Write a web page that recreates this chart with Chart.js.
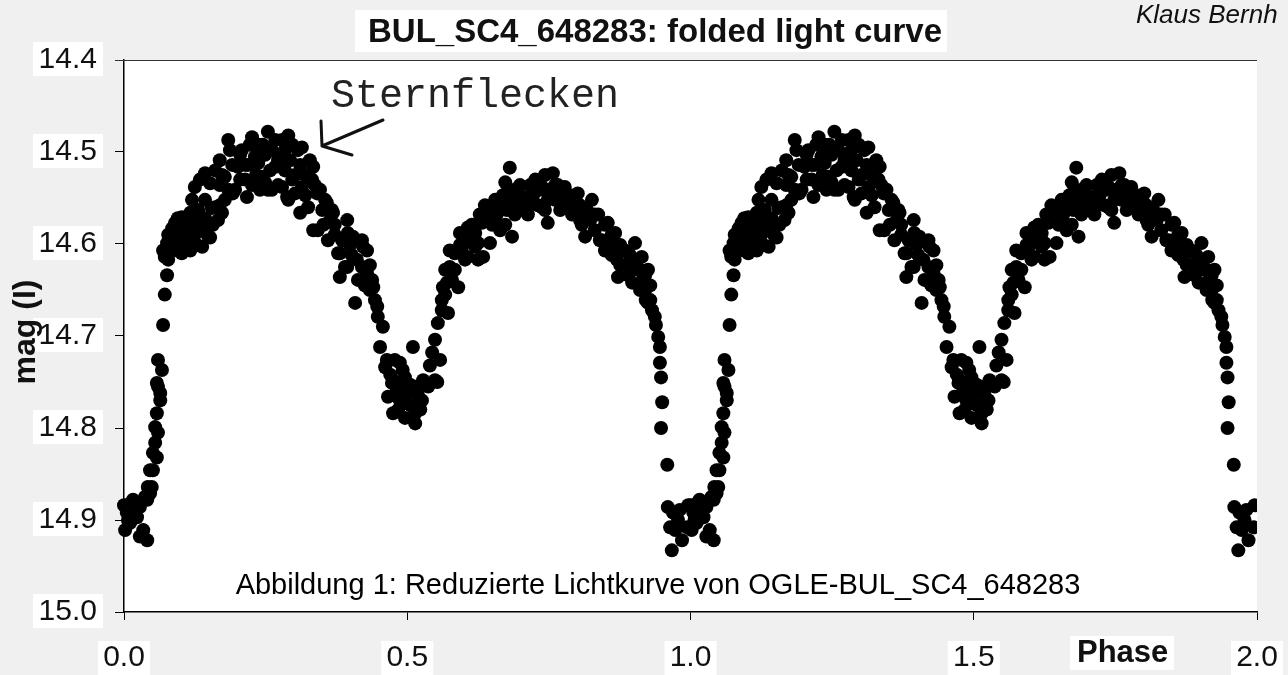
<!DOCTYPE html>
<html><head><meta charset="utf-8">
<script src="https://cdn.jsdelivr.net/npm/chart.js@4/dist/chart.umd.min.js"></script>
<style>html,body{margin:0;padding:0;background:#f0f0f0;overflow:hidden}#wrap{position:relative;width:1288px;height:675px}</style>
</head><body><div id="wrap"><canvas id="c"></canvas></div>
<script>
// Folded light curve: one cycle of observations (phase 0..1), shown twice (0..2)
const phase = [
0.000,0.002,0.005,0.007,0.011,0.011,0.016,0.019,0.023,0.028,
0.028,0.034,0.037,0.041,0.041,0.042,0.046,0.046,0.049,0.051,
0.051,0.055,0.058,0.060,0.055,0.058,0.064,0.060,0.067,0.060,
0.064,0.058,0.069,0.072,0.076,0.072,0.069,0.072,0.076,0.081,
0.078,0.085,0.090,0.090,0.095,0.099,0.102,0.102,0.108,0.111,
0.117,0.120,0.125,0.129,0.131,0.134,0.138,0.143,0.143,0.148,
0.152,0.155,0.161,0.166,0.173,0.178,0.184,0.125,0.134,0.143,
0.152,0.161,0.169,0.173,0.178,0.184,0.187,0.192,0.196,0.201,
0.205,0.208,0.214,0.217,0.219,0.222,0.226,0.231,0.233,0.237,
0.240,0.244,0.245,0.249,0.254,0.254,0.258,0.261,0.267,0.267,
0.272,0.275,0.279,0.284,0.288,0.290,0.290,0.293,0.297,0.302,
0.302,0.307,0.311,0.311,0.314,0.314,0.320,0.325,0.328,0.334,
0.334,0.337,0.341,0.342,0.346,0.350,0.355,0.358,0.360,0.364,
0.367,0.369,0.372,0.378,0.381,0.381,0.390,0.394,0.394,0.395,
0.399,0.404,0.408,0.411,0.420,0.420,0.422,0.425,0.429,0.429,
0.434,0.438,0.440,0.443,0.447,0.448,0.452,0.457,0.461,0.464,
0.466,0.470,0.473,0.475,0.478,0.482,0.487,0.487,0.492,0.496,
0.496,0.501,0.505,0.510,0.514,0.514,0.519,0.526,0.531,0.537,
0.540,0.544,0.549,0.549,0.554,0.558,0.528,0.553,0.517,0.492,
0.475,0.561,0.561,0.563,0.567,0.570,0.572,0.575,0.575,0.579,
0.584,0.590,0.593,0.593,0.597,0.602,0.607,0.607,0.611,0.614,
0.620,0.620,0.625,0.625,0.628,0.632,0.634,0.634,0.637,0.643,
0.646,0.646,0.650,0.655,0.658,0.664,0.664,0.669,0.673,0.676,
0.678,0.681,0.685,0.685,0.690,0.696,0.699,0.703,0.708,0.713,
0.717,0.722,0.726,0.731,0.734,0.738,0.738,0.743,0.748,0.752,
0.757,0.761,0.766,0.770,0.773,0.778,0.782,0.787,0.791,0.796,
0.801,0.805,0.808,0.814,0.817,0.823,0.826,0.831,0.837,0.840,
0.844,0.849,0.854,0.858,0.861,0.867,0.870,0.872,0.876,0.879,
0.884,0.890,0.893,0.897,0.902,0.906,0.911,0.914,0.916,0.920,
0.921,0.925,0.925,0.929,0.932,0.937,0.939,0.943,0.946,0.946,
0.948,0.950,0.948,0.959,0.960,0.964,0.969,0.967,0.973,0.978,0.981,0.985,0.994,0.996,
0.081,0.094,0.108,0.117,0.125,0.134,0.147,0.157,0.169,0.095,
0.078,0.120,0.191,0.214,0.226,0.237,0.249,0.261,0.272,0.284,
0.297,0.279,0.205,0.169,0.320,0.332,0.352,0.372,0.385,0.402,
0.413,0.434,0.478,0.505,0.523,0.484,0.584,0.602,0.614,0.567,
0.655,0.673,0.690,0.717,0.729,0.748,0.761,0.778,0.796,0.814,
0.831,0.743,0.770,0.805,0.849,0.861,0.884,0.898,0.911,0.929,
0.920,0.876
];
const mag = [
14.884,14.911,14.892,14.900,14.903,14.882,14.878,14.891,14.897,14.886,
14.918,14.911,14.875,14.922,14.878,14.864,14.871,14.846,14.864,14.846,
14.827,14.816,14.832,14.805,14.799,14.784,14.770,14.755,14.737,14.726,
14.762,14.751,14.688,14.655,14.634,14.612,14.607,14.614,14.599,14.607,
14.590,14.583,14.596,14.577,14.587,14.601,14.571,14.610,14.579,14.593,
14.566,14.588,14.576,14.601,14.563,14.585,14.603,14.552,14.572,14.582,
14.593,14.561,14.560,14.574,14.566,14.552,14.541,14.538,14.530,14.523,
14.534,14.520,14.509,14.525,14.527,14.487,14.498,14.545,14.541,14.516,
14.503,14.498,14.530,14.549,14.514,14.492,14.484,14.505,14.525,14.512,
14.541,14.527,14.492,14.503,14.478,14.541,14.520,14.498,14.516,14.487,
14.536,14.503,14.538,14.520,14.549,14.482,14.552,14.509,14.492,14.545,
14.525,14.498,14.566,14.514,14.495,14.538,14.525,14.560,14.509,14.516,
14.585,14.536,14.545,14.585,14.541,14.563,14.552,14.555,14.596,14.574,
14.563,14.566,14.590,14.610,14.610,14.636,14.625,14.574,14.625,14.588,
14.601,14.592,14.664,14.617,14.596,14.625,14.603,14.645,14.607,14.632,
14.623,14.639,14.647,14.661,14.668,14.679,14.712,14.690,14.734,14.726,
14.766,14.742,14.751,14.784,14.726,14.759,14.729,14.770,14.737,14.745,
14.789,14.762,14.775,14.712,14.784,14.795,14.764,14.770,14.753,14.755,
14.732,14.718,14.748,14.704,14.686,14.726,14.748,14.750,14.755,14.755,
14.748,14.672,14.661,14.647,14.628,14.642,14.675,14.607,14.625,14.639,
14.610,14.647,14.588,14.601,14.603,14.617,14.582,14.614,14.582,14.596,
14.588,14.603,14.599,14.617,14.568,14.577,14.574,14.614,14.558,14.563,
14.560,14.599,14.579,14.552,14.568,14.555,14.585,14.547,14.533,14.563,
14.541,14.517,14.592,14.552,14.541,14.563,14.536,14.552,14.549,14.568,
14.536,14.547,14.530,14.558,14.541,14.538,14.560,14.525,14.577,14.541,
14.523,14.552,14.536,14.563,14.547,14.538,14.558,14.547,14.568,14.566,
14.545,14.558,14.579,14.592,14.563,14.574,14.552,14.585,14.568,14.596,
14.596,14.579,14.577,14.601,14.590,14.588,14.617,14.636,14.601,14.607,
14.623,14.634,14.612,14.642,14.599,14.628,14.650,14.614,14.639,14.650,
14.661,14.628,14.664,14.645,14.672,14.679,14.688,14.701,14.712,14.729,
14.745,14.772,14.800,14.840,14.886,14.908,14.892,14.933,14.911,14.900,14.889,14.922,14.908,14.884,
14.590,14.607,14.596,14.607,14.590,14.572,14.590,14.579,14.558,14.572,
14.617,14.552,14.514,14.514,14.536,14.492,14.533,14.541,14.509,14.498,
14.530,14.487,14.530,14.536,14.547,14.530,14.579,14.579,14.596,14.612,
14.639,14.650,14.764,14.753,14.780,14.780,14.628,14.596,14.579,14.655,
14.574,14.579,14.568,14.558,14.541,14.552,14.536,14.552,14.552,14.568,
14.568,14.563,14.541,14.574,14.607,14.612,14.607,14.623,14.628,14.661,
14.634,14.623
];
const cycles = [0, 1];
const xTicks = [0.0, 0.5, 1.0, 1.5, 2.0];
const yTicks = [14.4, 14.5, 14.6, 14.7, 14.8, 14.9, 15.0];
const titleText = 'BUL_SC4_648283: folded light curve';
const xTitle = 'Phase';
const yTitle = 'mag (I)';
const annotationText = 'Sternflecken';
const captionText = 'Abbildung 1: Reduzierte Lichtkurve von OGLE-BUL_SC4_648283';
const authorText = 'Klaus Bernh';

const points = [];
cycles.forEach(c => phase.forEach((p, i) => points.push({x: p + c, y: mag[i]})));

const SANS = '"Liberation Sans", Arial, sans-serif';

const deco = {
  id: 'deco',
  beforeDraw(chart) {
    const {ctx, chartArea: a, scales} = chart;
    ctx.save();
    ctx.fillStyle = '#f0f0f0';
    ctx.fillRect(0, 0, chart.width, chart.height);
    ctx.fillStyle = '#ffffff';
    ctx.fillRect(355, 10, 592, 42);
    scales.y.ticks.forEach(t => {
      const py = scales.y.getPixelForValue(t.value);
      ctx.fillRect(33, py - 18, 70, 34);
    });
    scales.x.ticks.forEach(t => {
      const px = scales.x.getPixelForValue(t.value);
      ctx.fillRect(px - 26, 641, 52, 34);
    });
    ctx.fillRect(1070, 636, 104, 34);
    ctx.fillRect(a.left, a.top, a.right - a.left, a.bottom - a.top);
    ctx.restore();
  },
  afterDraw(chart) {
    const {ctx, chartArea: a} = chart;
    ctx.save();
    // top frame line
    ctx.strokeStyle = '#333';
    ctx.lineWidth = 1.2;
    ctx.beginPath();
    ctx.moveTo(a.left - 9, a.top + 0.5);
    ctx.lineTo(a.right, a.top + 0.5);
    ctx.stroke();
    // arrow
    ctx.strokeStyle = '#111';
    ctx.lineWidth = 3;
    ctx.lineCap = 'round';
    ctx.lineJoin = 'round';
    ctx.beginPath();
    ctx.moveTo(383, 120); ctx.lineTo(322, 146);
    ctx.moveTo(321, 121); ctx.lineTo(322, 146); ctx.lineTo(352, 155);
    ctx.stroke();
    // texts
    ctx.fillStyle = '#111';
    ctx.textAlign = 'center';
    ctx.textBaseline = 'alphabetic';
    ctx.font = 'bold 33px ' + SANS;
    ctx.fillText(titleText, 655, 42);
    ctx.textAlign = 'left';
    ctx.font = 'italic 26px ' + SANS;
    ctx.fillText(authorText, 1136, 23);
    ctx.font = 'bold 31px ' + SANS;
    ctx.fillText(xTitle, 1077, 662);
    ctx.font = '40px "Liberation Mono", "Courier New", monospace';
    ctx.fillStyle = '#222';
    ctx.fillText(annotationText, 331, 107);
    ctx.fillStyle = '#000';
    ctx.textAlign = 'center';
    ctx.font = '29px ' + SANS;
    ctx.fillText(captionText, 658, 594);
    ctx.save();
    ctx.translate(35, 332);
    ctx.rotate(-Math.PI / 2);
    ctx.font = 'bold 32px ' + SANS;
    ctx.fillStyle = '#111';
    ctx.fillText(yTitle, 0, 0);
    ctx.restore();
    ctx.restore();
  }
};

new Chart(document.getElementById('c'), {
  type: 'scatter',
  data: {
    datasets: [{
      data: points,
      pointRadius: 7,
      pointHoverRadius: 7,
      pointBackgroundColor: '#000',
      pointBorderWidth: 0,
      clip: {left: 8, top: 8, right: 0, bottom: 8}
    }]
  },
  options: {
    responsive: true,
    maintainAspectRatio: false,
    animation: false,
    layout: {padding: {top: 60, right: 31, left: 0, bottom: 0}},
    plugins: {legend: {display: false}, tooltip: {enabled: false}, title: {display: false}},
    scales: {
      x: {
        type: 'linear', min: 0, max: 2,
        afterBuildTicks: s => { s.ticks = xTicks.map(v => ({value: v})); },
        afterFit: s => { s.height = 63; s.paddingLeft = 0; s.paddingRight = 0; },
        ticks: {callback: v => Number(v).toFixed(1), font: {family: SANS, size: 30}, color: '#111', padding: 20, maxRotation: 0, autoSkip: false},
        grid: {drawOnChartArea: false, drawTicks: true, tickLength: 8, color: '#000', lineWidth: 1},
        border: {display: true, color: '#000', width: 1.5}
      },
      y: {
        type: 'linear', reverse: true, min: 14.4, max: 15.0,
        afterBuildTicks: s => { s.ticks = yTicks.map(v => ({value: v})); },
        afterFit: s => { s.width = 124; s.paddingTop = 0; s.paddingBottom = 0; },
        ticks: {callback: v => Number(v).toFixed(1), font: {family: SANS, size: 30}, color: '#111', padding: 18, autoSkip: false},
        grid: {drawOnChartArea: false, drawTicks: true, tickLength: 9, color: '#000', lineWidth: 1},
        border: {display: true, color: '#000', width: 1.5}
      }
    }
  },
  plugins: [deco]
});
</script>
</body></html>
